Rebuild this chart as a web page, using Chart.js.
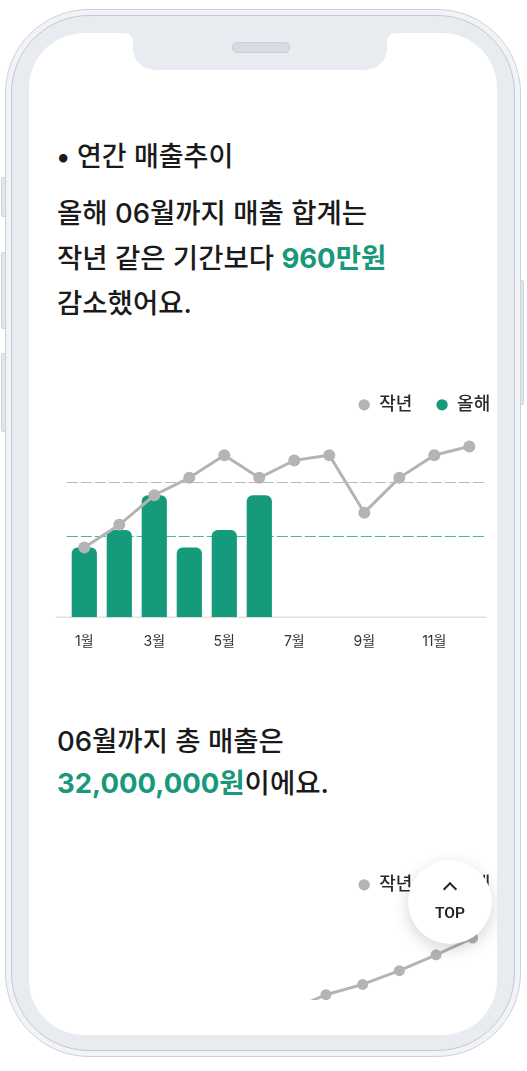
<!DOCTYPE html>
<html lang="ko">
<head>
<meta charset="utf-8">
<title>연간 매출추이</title>
<script src="https://cdn.jsdelivr.net/npm/chart.js@4.4.1/dist/chart.umd.min.js"></script>
<style>
  html, body { margin: 0; padding: 0; background: #fff; }
  body {
    width: 527px; height: 1071px; position: relative; overflow: hidden;
    font-family: Inter, "Noto Sans CJK KR", sans-serif; color: #1a1a1a;
  }
  .btn { position: absolute; background: #e2e6ec; border: 1px solid #cfd4dc; border-radius: 2px; }
  .phone {
    position: absolute; left: 5px; top: 9px; width: 514px; height: 1046px;
    border: 1px solid #cdd2da; border-radius: 84px; background: #f1f3f6;
  }
  .phone::before {
    content: ''; position: absolute; left: 5px; top: 5px; right: 5px; bottom: 5px;
    border: 1px solid #c3c9d2; border-radius: 78px; background: #e8ecf1;
  }
  .screen {
    position: absolute; left: 29px; top: 33px; width: 468px; height: 1002px;
    border-radius: 55px; background: #fff;
  }
  .notch {
    position: absolute; left: 133px; top: 33px; width: 254px; height: 37px;
    background: #e8ecf1; border-radius: 0 0 22px 22px;
  }
  .ear { position: absolute; top: 33px; width: 8px; height: 8px; }
  .ear.l { left: 125px; background: radial-gradient(circle at 0 100%, transparent 7.5px, #e8ecf1 8px); }
  .ear.r { left: 387px; background: radial-gradient(circle at 100% 100%, transparent 7.5px, #e8ecf1 8px); }
  .speaker {
    position: absolute; left: 232px; top: 42px; width: 56px; height: 9px;
    border-radius: 5px; background: #d7dbe2; border: 1px solid #c9ced6;
  }
  .content {
    position: absolute; left: 29px; top: 33px; width: 468px; height: 967px; overflow: hidden;
  }
  .inner { position: absolute; left: -29px; top: -33px; width: 527px; height: 1071px; }
  .title { position: absolute; left: 56px; top: 141px; font-size: 27px; line-height: 32px; font-weight: 500; white-space: nowrap; }
  .title .dot { display: inline-block; width: 21px; }
  .desc { position: absolute; left: 57px; top: 191px; font-size: 27.5px; line-height: 45px; font-weight: 500; white-space: nowrap; }
  .total { position: absolute; left: 57px; top: 720px; font-size: 27.5px; line-height: 42px; font-weight: 500; white-space: nowrap; }
  .hl { color: #17997a; font-weight: 700; }
  .chart { position: absolute; left: 40px; width: 474px; height: 294px; }
  .top {
    position: absolute; left: 408px; top: 860px; width: 84px; height: 84px; border-radius: 50%;
    background: #fff; box-shadow: 0 5px 16px rgba(0, 0, 0, 0.17);
  }
  .top .chev {
    position: absolute; left: 37px; top: 24px; width: 8px; height: 8px;
    border-left: 2px solid #222; border-top: 2px solid #222; transform: rotate(45deg);
  }
  .top .txt {
    position: absolute; left: 0; width: 84px; top: 44px; text-align: center;
    font-family: Roboto, sans-serif; font-size: 15.5px; font-weight: 600; color: #222; line-height: 18px;
  }
</style>
</head>
<body>
<div class="btn" style="left:1px;top:177px;width:4px;height:38px"></div>
<div class="btn" style="left:1px;top:252px;width:4px;height:75px"></div>
<div class="btn" style="left:1px;top:353px;width:4px;height:77px"></div>
<div class="btn" style="left:519px;top:280px;width:3px;height:123px"></div>
<div class="phone"></div>
<div class="screen"></div>
<div class="notch"></div>
<div class="ear l"></div>
<div class="ear r"></div>
<div class="speaker"></div>

<div class="content">
  <div class="inner">
    <div class="title"><span class="dot">•</span>연간 매출추이</div>
    <div class="desc">올해 06월까지 매출 합계는<br>작년 같은 기간보다 <span class="hl">960만원</span><br>감소했어요.</div>
    <div class="chart" style="top:372px"><canvas id="monthly"></canvas></div>
    <div class="total">06월까지 총 매출은<br><span class="hl">32,000,000원</span>이에요.</div>
    <div class="chart" style="top:852px"><canvas id="cumulative"></canvas></div>
    <div class="top"><span class="chev"></span><div class="txt">TOP</div></div>
  </div>
</div>

<script>
// 단위: 백만원
const months = ['1월', '2월', '3월', '4월', '5월', '6월', '7월', '8월', '9월', '10월', '11월', '12월'];
const lastYear = [4, 5.3, 7, 8, 9.3, 8, 9, 9.3, 6, 8, 9.3, 9.8];
const thisYear = [4, 5, 7, 4, 5, 7];
const averageLines = [7.75, 4.67];
const lastYearTotal = [4, 9.3, 16.3, 24.3, 33.6, 41.6, 50.6, 59.9, 65.9, 73.9, 83.2, 93];
const thisYearTotal = [4, 9, 16, 20, 25, 32];

const GRAY = '#b4b4b4';
const TEAL = '#159a7b';
const FONT = 'Inter, "Noto Sans CJK KR", sans-serif';

// baseline + dashed average lines
const guideLines = {
  id: 'guideLines',
  beforeDatasetsDraw(chart, args, opts) {
    const { ctx, chartArea: a, scales: { y } } = chart;
    ctx.save();
    const y0 = y.getPixelForValue(0);
    ctx.strokeStyle = '#e2e2e2';
    ctx.lineWidth = 1.5;
    ctx.beginPath();
    ctx.moveTo(a.left - 11, y0);
    ctx.lineTo(a.right, y0);
    ctx.stroke();
    (opts.values || []).forEach((v, i) => {
      const py = Math.round(y.getPixelForValue(v)) + 0.5;
      ctx.setLineDash([11, 3]);
      ctx.strokeStyle = opts.colors[i];
      ctx.lineWidth = 1;
      ctx.beginPath();
      ctx.moveTo(a.left, py);
      ctx.lineTo(a.right, py);
      ctx.stroke();
    });
    ctx.restore();
  }
};

function fixedWidth(w) {
  return {
    display: true,
    grid: { display: false },
    border: { display: false },
    ticks: { display: false },
    afterFit: s => { s.width = w; }
  };
}

function baseOptions(yMax, leftW, rightW, offset) {
  return {
    responsive: true,
    maintainAspectRatio: false,
    animation: false,
    events: [],
    plugins: {
      tooltip: { enabled: false },
      legend: {
        align: 'end',
        labels: {
          usePointStyle: true,
          pointStyle: 'circle',
          boxWidth: 12,
          boxHeight: 8,
          padding: 23.8,
          color: '#2a2a2a',
          font: { family: FONT, size: 18, weight: '500' },
          generateLabels: chart => Chart.defaults.plugins.legend.labels.generateLabels(chart)
            .map(item => Object.assign(item, { lineWidth: 0 }))
        }
      }
    },
    scales: {
      x: {
        offset: offset,
        grid: { display: false, drawTicks: false },
        border: { display: false },
        ticks: {
          autoSkip: false,
          maxRotation: 0,
          padding: 16,
          color: '#333',
          font: { family: FONT, size: 14 },
          callback: function (val, i) { return i % 2 === 0 ? this.getLabelForValue(val) : ''; }
        }
      },
      y: Object.assign(fixedWidth(leftW), { min: 0, max: yMax }),
      yR: Object.assign(fixedWidth(rightW), { position: 'right' })
    }
  };
}

const monthlyOptions = baseOptions(11.1, 26.8, 27.2, true);
monthlyOptions.plugins.guideLines = { values: averageLines, colors: ['#b9b9b9', '#3cbf9c'] };

new Chart(document.getElementById('monthly'), {
  data: {
    labels: months,
    datasets: [
      {
        type: 'line',
        label: '작년',
        data: lastYear,
        borderColor: GRAY,
        backgroundColor: GRAY,
        borderWidth: 3,
        pointRadius: 6,
        pointBorderWidth: 0,
        pointBackgroundColor: GRAY,
        order: 1
      },
      {
        type: 'bar',
        label: '올해',
        data: thisYear,
        backgroundColor: TEAL,
        borderRadius: 6,
        borderSkipped: 'bottom',
        order: 2
      }
    ]
  },
  options: monthlyOptions,
  plugins: [guideLines]
});

new Chart(document.getElementById('cumulative'), {
  type: 'line',
  data: {
    labels: months,
    datasets: [
      {
        label: '작년',
        data: lastYearTotal,
        borderColor: GRAY,
        backgroundColor: GRAY,
        borderWidth: 3,
        pointRadius: 5.5,
        pointBorderWidth: 0,
        pointBackgroundColor: GRAY
      },
      {
        label: '올해',
        data: thisYearTotal,
        borderColor: TEAL,
        backgroundColor: TEAL,
        borderWidth: 3,
        pointRadius: 5.5,
        pointBorderWidth: 0,
        pointBackgroundColor: TEAL
      }
    ]
  },
  options: baseOptions(113, 29.3, 41.3, false)
});
</script>
</body>
</html>
